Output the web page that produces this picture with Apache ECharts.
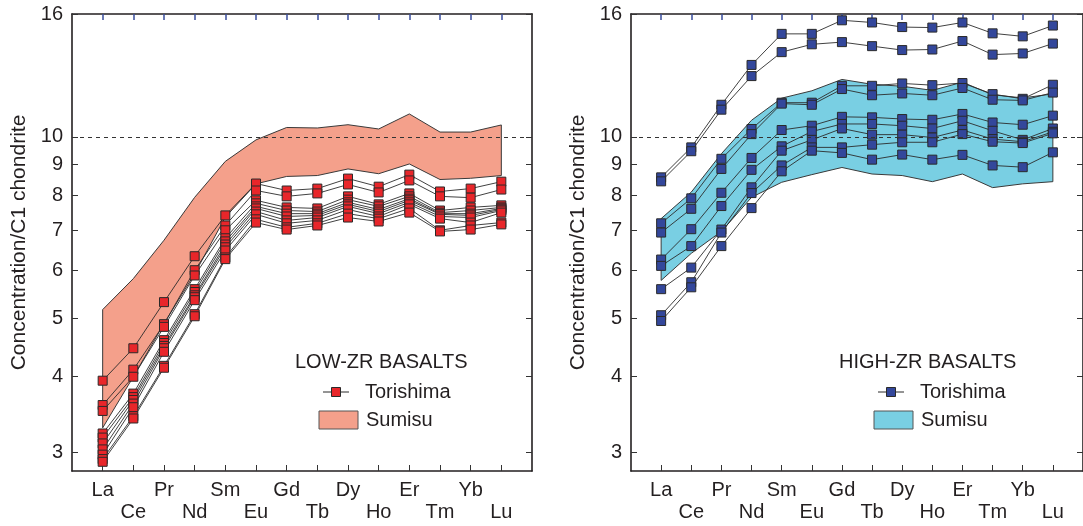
<!DOCTYPE html>
<html>
<head>
<meta charset="utf-8">
<script src="https://cdn.jsdelivr.net/npm/echarts@6/dist/echarts.min.js"></script>
<style>
html,body{margin:0;padding:0;background:#fff;}
#chart{width:1083px;height:526px;}
</style>
</head>
<body>
<div id="chart"></div>
<script>
// ---- Data ----
const elements = ['La','Ce','Pr','Nd','Sm','Eu','Gd','Tb','Dy','Ho','Er','Tm','Yb','Lu'];
const yTickValues = [3,4,5,6,7,8,9,10,16];
const xTickValues = [0,1,2,3,4,5,6,7,8,9,10,11,12,13];

// LOW-ZR BASALTS: Sumisu envelope
const lowSumisuUpper = [5.17,5.82,6.74,7.94,9.11,9.89,10.37,10.35,10.48,10.31,10.92,10.19,10.19,10.47];
const lowSumisuLower = [3.29,4.00,4.90,5.93,7.36,8.36,8.60,8.63,8.85,8.69,9.02,8.50,8.54,8.63];
// LOW-ZR BASALTS: Torishima samples
const lowTori1  = [3.94,4.46,5.32,6.34,7.41,8.37,8.15,8.21,8.53,8.27,8.66,8.12,8.21,8.43];
const lowTori2  = [3.59,4.11,4.89,6.01,7.13,8.15,7.97,8.06,8.34,8.09,8.47,7.97,7.93,8.18];
const lowTori3  = [3.51,4.00,4.84,5.89,7.00,7.85,7.64,7.61,7.97,7.73,8.06,7.55,7.64,7.70];
const lowTori4  = [3.22,3.75,4.60,5.59,6.79,7.76,7.55,7.52,7.87,7.67,7.97,7.49,7.55,7.64];
const lowTori5  = [3.17,3.70,4.55,5.53,6.71,7.67,7.46,7.46,7.79,7.58,7.90,7.46,7.46,7.61];
const lowTori6  = [3.10,3.66,4.50,5.46,6.63,7.61,7.38,7.41,7.73,7.52,7.85,7.44,7.41,7.58];
const lowTori7  = [3.03,3.61,4.46,5.42,6.56,7.52,7.27,7.35,7.67,7.46,7.79,7.38,7.35,7.55];
const lowTori8  = [2.97,3.56,4.40,5.36,6.48,7.44,7.19,7.27,7.58,7.38,7.73,7.32,7.21,7.49];
const lowTori9  = [2.92,3.44,4.17,5.08,6.31,7.30,7.08,7.19,7.46,7.32,7.61,7.00,7.13,7.21];
const lowTori10 = [2.89,3.41,4.14,5.04,6.27,7.21,7.02,7.13,7.35,7.24,7.49,6.97,7.02,7.16];

// HIGH-ZR BASALTS: Sumisu envelope
const highSumisuUpper = [7.32,8.10,9.38,10.66,11.60,11.93,12.46,12.23,12.14,11.95,12.33,11.75,11.61,11.79];
const highSumisuLower = [5.78,6.41,6.97,7.94,8.41,8.66,8.90,8.68,8.63,8.43,8.68,8.24,8.36,8.43];
// HIGH-ZR BASALTS: Torishima samples
const highTori1 = [8.57,9.61,11.31,13.17,14.83,14.83,15.62,15.49,15.22,15.19,15.49,14.86,14.69,15.31];
const highTori2 = [8.44,9.47,11.10,12.62,13.83,14.25,14.37,14.15,13.94,13.97,14.43,13.70,13.76,14.29];
const highTori3 = [7.19,7.91,9.20,10.31,11.40,11.40,12.16,12.16,12.27,12.19,12.29,11.78,11.57,12.21];
const highTori4 = [6.94,7.60,8.85,10.11,11.36,11.31,12.01,11.73,11.81,11.73,12.06,11.53,11.50,11.85];
const highTori5 = [6.26,7.03,8.08,9.23,10.27,10.44,10.80,10.78,10.71,10.68,10.92,10.57,10.48,10.85];
const highTori6 = [6.11,6.59,7.68,8.82,9.65,10.21,10.51,10.51,10.44,10.33,10.64,10.24,9.89,10.33];
const highTori7 = [5.59,6.07,7.02,8.25,9.49,9.89,10.33,10.09,10.09,9.98,10.27,9.92,9.82,10.20];
const highTori8 = [5.06,5.74,6.94,8.07,8.97,9.61,9.61,9.71,9.80,9.80,10.11,9.82,9.77,10.14];
const highTori9 = [4.95,5.63,6.59,7.62,8.77,9.49,9.41,9.17,9.35,9.17,9.34,8.97,8.91,9.43];

const lowTorishima = [lowTori1,lowTori2,lowTori3,lowTori4,lowTori5,lowTori6,lowTori7,lowTori8,lowTori9,lowTori10];
const highTorishima = [highTori1,highTori2,highTori3,highTori4,highTori5,highTori6,highTori7,highTori8,highTori9];

// ---- Styles ----
const FONT = 'Liberation Sans, Arial, sans-serif';
const TEXT = '#231f20';
const AXIS = '#231f20';
const LOW_FILL = '#f4a08b';
const HIGH_FILL = '#79cfe3';
const LOW_MARK = '#e8262a';
const HIGH_MARK = '#33479b';

const GRID_TOP = 14, GRID_H = 457, GRID_W = 460;
const grids = [
  {left: 72, top: GRID_TOP, width: GRID_W, height: GRID_H},
  {left: 631, top: GRID_TOP, width: GRID_W, height: GRID_H}
];

function xAxes(gi) {
  return [
    {
      type: 'value', gridIndex: gi, position: 'bottom', min: -1, max: 14,
      axisLine: {show: true, onZero: false, lineStyle: {color: AXIS, width: 1.6}},
      axisTick: {show: true, inside: true, length: 6, customValues: xTickValues, lineStyle: {color: '#333', width: 1}},
      axisLabel: {
        show: true, customValues: xTickValues, margin: 8, fontSize: 20, lineHeight: 22,
        fontFamily: FONT, color: TEXT,
        formatter: function (v) { const n = elements[Math.round(v)]; return (Math.round(v) % 2) ? '\n' + n : n; }
      },
      splitLine: {show: false}
    },
    {
      type: 'value', gridIndex: gi, position: 'top', min: -1, max: 14,
      axisLine: {show: true, onZero: false, lineStyle: {color: AXIS, width: 1.6}},
      axisTick: {show: true, inside: true, length: 6, customValues: xTickValues, lineStyle: {color: '#3a4d9c', width: 1.5}},
      axisLabel: {show: false},
      splitLine: {show: false}
    }
  ];
}
function yAxes(gi) {
  return [
    {
      type: 'log', logBase: 10, gridIndex: gi, position: 'left', min: 2.79, max: 16,
      name: 'Concentration/C1 chondrite', nameLocation: 'middle', nameGap: 42,
      nameTextStyle: {fontSize: 21, fontFamily: FONT, color: TEXT},
      axisLine: {show: true, onZero: false, lineStyle: {color: AXIS, width: 1.6}},
      axisTick: {show: true, inside: true, length: 6, customValues: yTickValues, lineStyle: {color: '#333', width: 1}},
      axisLabel: {show: true, customValues: yTickValues, margin: 9, fontSize: 20, fontFamily: FONT, color: TEXT},
      splitLine: {show: false}
    },
    {
      type: 'log', logBase: 10, gridIndex: gi, position: 'right', min: 2.79, max: 16,
      axisLine: {show: true, onZero: false, lineStyle: {color: AXIS, width: 1.6}},
      axisTick: {show: true, inside: true, length: 6, customValues: yTickValues, lineStyle: {color: '#333', width: 1}},
      axisLabel: {show: false},
      splitLine: {show: false}
    }
  ];
}

function bandSeries(gi, upper, lower, fill) {
  return {
    type: 'custom', xAxisIndex: gi * 2, yAxisIndex: gi * 2, silent: true, z: 1,
    data: [[0, upper[0]]],
    renderItem: function (params, api) {
      const top = upper.map((v, i) => api.coord([i, v]));
      const bot = lower.map((v, i) => api.coord([i, v])).reverse();
      return {type: 'polygon', shape: {points: top.concat(bot)}, style: {fill: fill, stroke: '#3a3a3a', lineWidth: 1}};
    },
    markLine: {
      silent: true, symbol: ['none', 'none'], label: {show: false},
      lineStyle: {type: [4, 4], color: '#333', width: 1},
      data: [{yAxis: 10}]
    }
  };
}

function lineSeries(gi, arr, color) {
  return arr.map(vals => ({
    type: 'line', xAxisIndex: gi * 2, yAxisIndex: gi * 2, z: 3,
    data: vals.map((v, i) => [i, v]),
    symbol: 'rect', symbolSize: 9, showSymbol: true, silent: true,
    lineStyle: {color: '#2b2b2b', width: 0.9},
    itemStyle: {color: color, borderColor: '#2a2a2a', borderWidth: 1},
    emphasis: {disabled: true}, animation: false
  }));
}

function legendGraphics(x0, title, markColor, fill, titleX) {
  return [
    {type: 'text', left: titleX, top: 352, style: {text: title, fontSize: 20, fontFamily: FONT, fill: TEXT}},
    {type: 'line', shape: {x1: x0 + 4, y1: 392, x2: x0 + 30, y2: 392}, style: {stroke: '#2b2b2b', lineWidth: 1}},
    {type: 'rect', shape: {x: x0 + 12.5, y: 387.5, width: 9, height: 9}, style: {fill: markColor, stroke: '#2a2a2a', lineWidth: 1}},
    {type: 'text', left: x0 + 46, top: 382, style: {text: 'Torishima', fontSize: 20, fontFamily: FONT, fill: TEXT}},
    {type: 'rect', shape: {x: x0, y: 411, width: 39, height: 18}, style: {fill: fill, stroke: '#555', lineWidth: 1}},
    {type: 'text', left: x0 + 47, top: 410, style: {text: 'Sumisu', fontSize: 20, fontFamily: FONT, fill: TEXT}}
  ];
}

const option = {
  animation: false,
  backgroundColor: '#fff',
  grid: grids,
  xAxis: xAxes(0).concat(xAxes(1)),
  yAxis: yAxes(0).concat(yAxes(1)),
  series: [
    bandSeries(0, lowSumisuUpper, lowSumisuLower, LOW_FILL),
    bandSeries(1, highSumisuUpper, highSumisuLower, HIGH_FILL)
  ].concat(lineSeries(0, lowTorishima, LOW_MARK), lineSeries(1, highTorishima, HIGH_MARK)),
  graphic: legendGraphics(319, 'LOW-ZR BASALTS', LOW_MARK, LOW_FILL, 295)
    .concat(legendGraphics(874, 'HIGH-ZR BASALTS', HIGH_MARK, HIGH_FILL, 839))
};

const chart = echarts.init(document.getElementById('chart'), null, {renderer: 'canvas'});
chart.setOption(option);
</script>
</body>
</html>
